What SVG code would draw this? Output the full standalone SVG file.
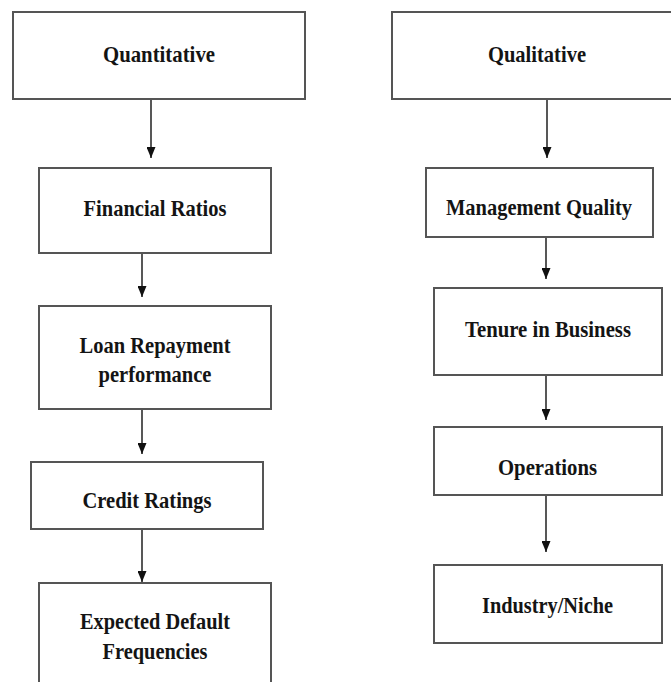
<svg xmlns="http://www.w3.org/2000/svg" width="671" height="682" viewBox="0 0 671 682">
<style>
.box{fill:#fff;stroke:#555;stroke-width:2}
.lbl{font-family:"Liberation Serif","Times New Roman",serif;font-weight:bold;font-size:22.5px;fill:#141414;text-anchor:middle}
.con{stroke:#111;stroke-width:1.4;fill:none;marker-end:url(#ah)}
</style>
<defs>
<marker id="ah" viewBox="0 0 11 9" refX="11" refY="4.5" markerWidth="11" markerHeight="9" markerUnits="userSpaceOnUse" orient="auto">
<path d="M0,0 L11,4.5 L0,9 z" fill="#111"/>
</marker>
</defs>
<rect width="671" height="682" fill="#fff"/>
<g id="connectors">
<line class="con" x1="151" y1="99" x2="151" y2="158"/>
<line class="con" x1="142" y1="253" x2="142" y2="297"/>
<line class="con" x1="142" y1="409" x2="142" y2="454"/>
<line class="con" x1="142" y1="529" x2="142" y2="582"/>
<line class="con" x1="547" y1="99" x2="547" y2="158"/>
<line class="con" x1="546" y1="237" x2="546" y2="279"/>
<line class="con" x1="546" y1="375" x2="546" y2="420"/>
<line class="con" x1="546" y1="495" x2="546" y2="552"/>
</g>
<g id="quantitative">
<rect class="box" x="13" y="12" width="292" height="87"/>
<text class="lbl" x="159" y="62" textLength="112" lengthAdjust="spacingAndGlyphs">Quantitative</text>
</g>
<g id="financial-ratios">
<rect class="box" x="39" y="168" width="232" height="85"/>
<text class="lbl" x="155" y="216" textLength="143" lengthAdjust="spacingAndGlyphs">Financial Ratios</text>
</g>
<g id="loan-repayment">
<rect class="box" x="39" y="306" width="232" height="103"/>
<text class="lbl" x="155" y="353" textLength="151" lengthAdjust="spacingAndGlyphs">Loan Repayment</text>
<text class="lbl" x="155" y="382" textLength="113" lengthAdjust="spacingAndGlyphs">performance</text>
</g>
<g id="credit-ratings">
<rect class="box" x="31" y="462" width="232" height="67"/>
<text class="lbl" x="147" y="508" textLength="129" lengthAdjust="spacingAndGlyphs">Credit Ratings</text>
</g>
<g id="expected-default">
<rect class="box" x="39" y="583" width="232" height="110"/>
<text class="lbl" x="155" y="629" textLength="150" lengthAdjust="spacingAndGlyphs">Expected Default</text>
<text class="lbl" x="155" y="659" textLength="105" lengthAdjust="spacingAndGlyphs">Frequencies</text>
</g>
<g id="qualitative">
<rect class="box" x="392" y="12" width="300" height="87"/>
<text class="lbl" x="537" y="62" textLength="98" lengthAdjust="spacingAndGlyphs">Qualitative</text>
</g>
<g id="management-quality">
<rect class="box" x="426" y="168" width="227" height="69"/>
<text class="lbl" x="539" y="215" textLength="186" lengthAdjust="spacingAndGlyphs">Management Quality</text>
</g>
<g id="tenure">
<rect class="box" x="434" y="288" width="228" height="87"/>
<text class="lbl" x="548" y="337" textLength="166" lengthAdjust="spacingAndGlyphs">Tenure in Business</text>
</g>
<g id="operations">
<rect class="box" x="434" y="427" width="228" height="68"/>
<text class="lbl" x="547.5" y="475" textLength="99" lengthAdjust="spacingAndGlyphs">Operations</text>
</g>
<g id="industry-niche">
<rect class="box" x="434" y="565" width="228" height="78"/>
<text class="lbl" x="547.5" y="613" textLength="131" lengthAdjust="spacingAndGlyphs">Industry/Niche</text>
</g>
</svg>
